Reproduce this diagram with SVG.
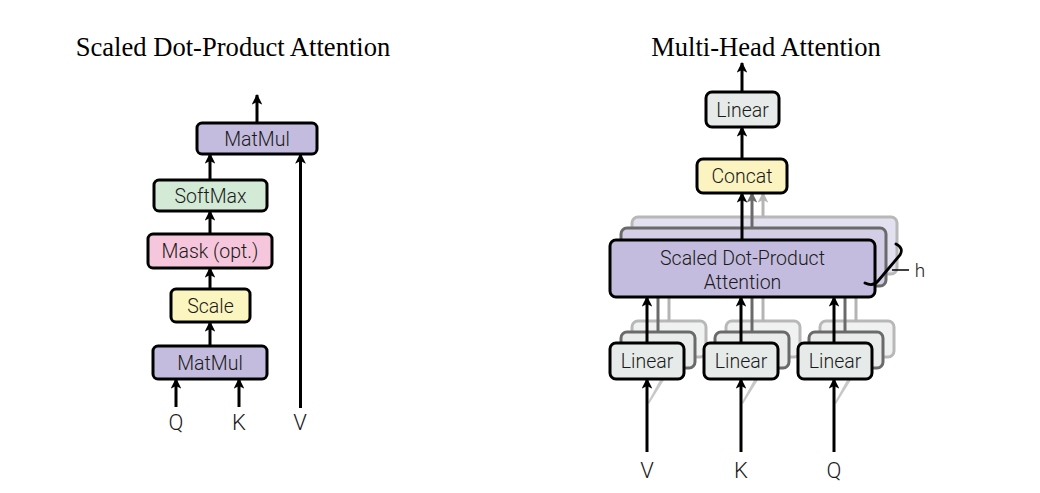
<svg xmlns="http://www.w3.org/2000/svg" width="1040" height="493" viewBox="0 0 1040 493">
<style>
.title{font-family:"Liberation Serif","Times New Roman",serif;font-size:26.6px;fill:#000;text-anchor:middle}
.lbl{font-family:Roboto,"Liberation Sans",Arial,sans-serif;font-weight:300;font-size:19.5px;fill:#1a1a1a;text-anchor:middle;dominant-baseline:central}
.io{font-family:Roboto,"Liberation Sans",Arial,sans-serif;font-weight:300;font-size:22px;fill:#1a1a1a;text-anchor:middle}
.box{stroke:#000;stroke-width:3}
.matmul{fill:#c4bcde}
.softmax{fill:#d2ead6}
.mask{fill:#f6c7dc}
.scale{fill:#fbf6c0}
.linear{fill:#e6ebe9}
.concat{fill:#fbf4c1}
.arr{stroke:#000;stroke-width:3;fill:none;marker-end:url(#ah)}
.arr2{stroke:#6a6a6a;stroke-width:3;fill:none;marker-end:url(#ah2)}
.arr3{stroke:#b4b4b4;stroke-width:3;fill:none;marker-end:url(#ah3)}
</style>
<defs>
<marker id="ah" viewBox="0 0 10 10" refX="9" refY="5" markerWidth="3.6" markerHeight="3.6" orient="auto" markerUnits="strokeWidth"><path d="M0,0 L10,5 L0,10 L2.5,5 z" fill="#000"/></marker>
<marker id="ah2" viewBox="0 0 10 10" refX="9" refY="5" markerWidth="3.6" markerHeight="3.6" orient="auto" markerUnits="strokeWidth"><path d="M0,0 L10,5 L0,10 L2.5,5 z" fill="#6a6a6a"/></marker>
<marker id="ah3" viewBox="0 0 10 10" refX="9" refY="5" markerWidth="3.6" markerHeight="3.6" orient="auto" markerUnits="strokeWidth"><path d="M0,0 L10,5 L0,10 L2.5,5 z" fill="#b4b4b4"/></marker>
</defs>

<text class="title" x="233" y="56">Scaled Dot-Product Attention</text>
<text class="title" x="766" y="56">Multi-Head Attention</text>

<!-- Left diagram nodes -->
<g id="sdpa-matmul-top"><rect class="box matmul" x="197" y="123" width="120" height="31" rx="5"/><text class="lbl" x="257" y="139">MatMul</text></g>
<g id="sdpa-softmax"><rect class="box softmax" x="154" y="180" width="113" height="31" rx="5"/><text class="lbl" x="210.5" y="196">SoftMax</text></g>
<g id="sdpa-mask"><rect class="box mask" x="148" y="234" width="124" height="34" rx="5"/><text class="lbl" x="210" y="251">Mask (opt.)</text></g>
<g id="sdpa-scale"><rect class="box scale" x="171" y="289" width="79" height="33" rx="5"/><text class="lbl" x="210.5" y="306">Scale</text></g>
<g id="sdpa-matmul-bottom"><rect class="box matmul" x="153" y="346" width="114" height="33" rx="5"/><text class="lbl" x="210" y="363">MatMul</text></g>
<g id="sdpa-inputs">
<text class="io" x="176" y="430">Q</text>
<text class="io" x="239" y="430">K</text>
<text class="io" x="300" y="430">V</text>
</g>

<!-- Right diagram: stacked shadow copies -->
<g id="mha-sdpa-back">
<rect x="632" y="217" width="265" height="57" rx="6" fill="#e3e0ef" stroke="#b8b8b8" stroke-width="3"/>
<rect x="621" y="228" width="265" height="58" rx="6" fill="#d3cde6" stroke="#6a6a6a" stroke-width="3"/>
</g>
<g id="mha-linear-back">
<rect x="632" y="321" width="74" height="36" rx="6" fill="#f0f2f1" stroke="#b8b8b8" stroke-width="3"/>
<rect x="621" y="332" width="74" height="36" rx="6" fill="#e9ecea" stroke="#6a6a6a" stroke-width="3"/>
<rect x="726" y="321" width="74" height="36" rx="6" fill="#f0f2f1" stroke="#b8b8b8" stroke-width="3"/>
<rect x="715" y="332" width="74" height="36" rx="6" fill="#e9ecea" stroke="#6a6a6a" stroke-width="3"/>
<rect x="820" y="321" width="74" height="36" rx="6" fill="#f0f2f1" stroke="#b8b8b8" stroke-width="3"/>
<rect x="809" y="332" width="74" height="36" rx="6" fill="#e9ecea" stroke="#6a6a6a" stroke-width="3"/>
</g>

<g id="connectors">
<!-- left -->
<line class="arr" x1="257" y1="123" x2="257" y2="95"/>
<line class="arr" x1="210" y1="180" x2="210" y2="154"/>
<line class="arr" x1="210" y1="234" x2="210" y2="211"/>
<line class="arr" x1="210" y1="289" x2="210" y2="268"/>
<line class="arr" x1="210" y1="346" x2="210" y2="322"/>
<line class="arr" x1="176" y1="407" x2="176" y2="379"/>
<line class="arr" x1="239" y1="407" x2="239" y2="379"/>
<line class="arr" x1="300.5" y1="408" x2="300.5" y2="154"/>
<!-- right -->
<line class="arr" x1="742" y1="92" x2="742" y2="63"/>
<line class="arr" x1="742" y1="159" x2="742" y2="127"/>
<line class="arr3" x1="763" y1="217" x2="763" y2="193"/>
<line class="arr2" x1="752" y1="228" x2="752" y2="193"/>
<line class="arr" x1="742" y1="240" x2="742" y2="193"/>
<line class="arr3" x1="669" y1="321" x2="669" y2="274"/>
<line class="arr2" x1="658" y1="332" x2="658" y2="286"/>
<line class="arr" x1="647" y1="343" x2="647" y2="297"/>
<line class="arr3" x1="763" y1="321" x2="763" y2="274"/>
<line class="arr2" x1="752" y1="332" x2="752" y2="286"/>
<line class="arr" x1="741" y1="343" x2="741" y2="297"/>
<line class="arr3" x1="856" y1="321" x2="856" y2="274"/>
<line class="arr2" x1="845" y1="332" x2="845" y2="286"/>
<line class="arr" x1="834" y1="343" x2="834" y2="297"/>
<!-- faint shadow copies of inputs -->
<path d="M648,402 L660,380 L664,380 L649,404 z" fill="#9a9a9a" opacity="0.55"/>
<path d="M742,402 L754,380 L758,380 L743,404 z" fill="#9a9a9a" opacity="0.55"/>
<path d="M835,402 L847,380 L851,380 L836,404 z" fill="#9a9a9a" opacity="0.55"/>
<line class="arr" x1="647" y1="452" x2="647" y2="379"/>
<line class="arr" x1="741" y1="452" x2="741" y2="379"/>
<line class="arr" x1="834" y1="452" x2="834" y2="379"/>
</g>

<!-- Right diagram front nodes -->
<g id="mha-linear-top"><rect class="box linear" x="706" y="92" width="73" height="35" rx="6"/><text class="lbl" x="742.5" y="110">Linear</text></g>
<g id="mha-concat"><rect class="box concat" x="697" y="159" width="90" height="34" rx="6"/><text class="lbl" x="742" y="176.5">Concat</text></g>
<g id="mha-sdpa"><rect class="box matmul" x="610" y="240" width="265" height="57" rx="6"/>
<text class="lbl" x="742.5" y="258">Scaled Dot-Product</text>
<text class="lbl" x="742.5" y="282">Attention</text></g>
<g id="mha-linear-v"><rect class="box linear" x="610" y="343" width="74" height="36" rx="6"/><text class="lbl" x="647" y="361">Linear</text></g>
<g id="mha-linear-k"><rect class="box linear" x="704" y="343" width="74" height="36" rx="6"/><text class="lbl" x="741" y="361">Linear</text></g>
<g id="mha-linear-q"><rect class="box linear" x="798" y="343" width="74" height="36" rx="6"/><text class="lbl" x="835" y="361">Linear</text></g>

<g id="mha-h">
<path d="M896,244 Q904,248 900,255 L878,281 Q873,287 865,283" fill="none" stroke="#000" stroke-width="2.8" stroke-linecap="round"/>
<line x1="892" y1="270" x2="909" y2="270" stroke="#000" stroke-width="1.5"/>
<text class="io" x="920" y="277" style="font-size:19px">h</text>
</g>
<g id="mha-inputs">
<text class="io" x="647" y="478">V</text>
<text class="io" x="741" y="478">K</text>
<text class="io" x="834" y="478">Q</text>
</g>
</svg>
